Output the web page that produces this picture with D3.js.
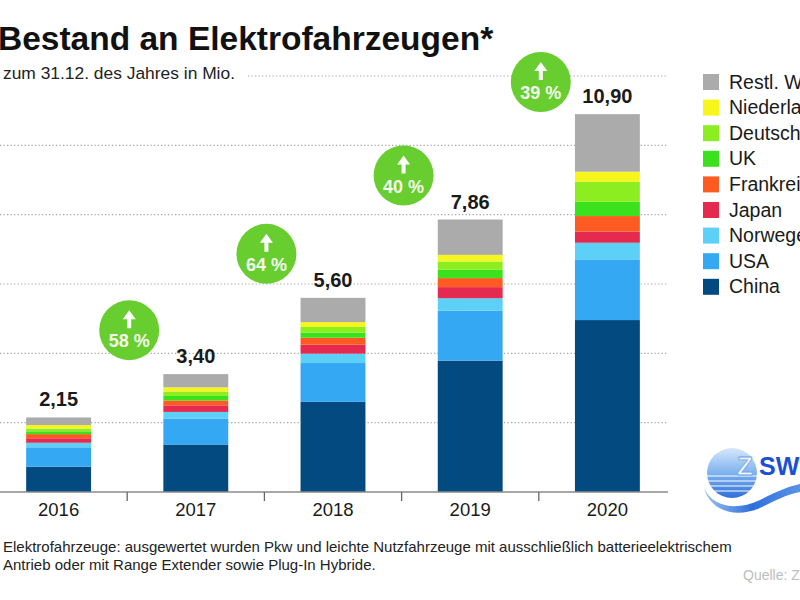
<!DOCTYPE html>
<html>
<head>
<meta charset="utf-8">
<script src="https://cdn.jsdelivr.net/npm/d3@7"></script>
<style>
  body { margin: 0; background: #fff; }
  svg { display: block; font-family: "Liberation Sans", Arial, sans-serif; }
</style>
</head>
<body>
<svg id="chart" width="800" height="600"></svg>
<script>
// values in Mio.
var years = ["2016", "2017", "2018", "2019", "2020"];
var seriesNames = ["China", "USA", "Norwegen", "Japan", "Frankreich", "UK", "Deutschland", "Niederlande", "Restl. Welt"];
var china       = [0.73, 1.37, 2.60, 3.79, 4.96];
var usa         = [0.56, 0.75, 1.12, 1.44, 1.75];
var norwegen    = [0.13, 0.19, 0.27, 0.36, 0.48];
var japan       = [0.13, 0.19, 0.26, 0.32, 0.32];
var frankreich  = [0.12, 0.14, 0.20, 0.26, 0.45];
var uk          = [0.08, 0.13, 0.15, 0.24, 0.41];
var deutschland = [0.08, 0.13, 0.16, 0.24, 0.58];
var niederlande = [0.10, 0.12, 0.14, 0.19, 0.29];
var restWelt    = [0.22, 0.38, 0.70, 1.02, 1.66];
var totalLabels = ["2,15", "3,40", "5,60", "7,86", "10,90"];
var totals      = [2.15, 3.40, 5.60, 7.86, 10.90];
var growth      = ["58 %", "64 %", "40 %", "39 %"];
var yTicks      = [2, 4, 6, 8, 10, 12];

var colors = {
  "China": "#024a80",
  "USA": "#35a8f4",
  "Norwegen": "#5dd0f8",
  "Japan": "#e52a50",
  "Frankreich": "#fd5b22",
  "UK": "#3ae11c",
  "Deutschland": "#8ced20",
  "Niederlande": "#f6f51c",
  "Restl. Welt": "#ababab"
};

var valuesBySeries = {
  "China": china, "USA": usa, "Norwegen": norwegen, "Japan": japan,
  "Frankreich": frankreich, "UK": uk, "Deutschland": deutschland,
  "Niederlande": niederlande, "Restl. Welt": restWelt
};

var rows = years.map(function (yr, i) {
  var r = { year: yr };
  seriesNames.forEach(function (s) { r[s] = valuesBySeries[s][i]; });
  return r;
});

var svg = d3.select("#chart");

var x = d3.scaleBand().domain(years).range([-10, 676]).paddingInner(0.527).paddingOuter(0.2635);
var y = d3.scaleLinear().domain([0, 12]).range([492, 76]);

// gridlines
svg.append("g").selectAll("line")
  .data(yTicks)
  .enter().append("line")
  .attr("x1", function (d) { return d === 12 ? 248 : 0; })
  .attr("x2", 668)
  .attr("y1", function (d) { return y(d); })
  .attr("y2", function (d) { return y(d); })
  .attr("stroke", "#a8a8a8")
  .attr("stroke-width", 1.2)
  .attr("stroke-dasharray", "1.3,2.2");

// stacked bars
var stack = d3.stack().keys(seriesNames);
var layers = stack(rows);

svg.append("g").selectAll("g")
  .data(layers)
  .enter().append("g")
  .attr("fill", function (d) { return colors[d.key]; })
  .selectAll("rect")
  .data(function (d) { return d; })
  .enter().append("rect")
  .attr("x", function (d) { return x(d.data.year); })
  .attr("width", x.bandwidth())
  .attr("y", function (d) { return y(d[1]); })
  .attr("height", function (d) { return y(d[0]) - y(d[1]); });

// x axis
var axis = svg.append("g").attr("transform", "translate(0," + y(0) + ")");
axis.append("line").attr("x1", 0).attr("x2", 668).attr("stroke", "#8a8a8a").attr("stroke-width", 1.3);
axis.selectAll(".tick")
  .data(years.slice(1))
  .enter().append("line")
  .attr("x1", function (d) { return x(d) - x.step() * x.paddingInner() / 2; })
  .attr("x2", function (d) { return x(d) - x.step() * x.paddingInner() / 2; })
  .attr("y1", 0).attr("y2", 9)
  .attr("stroke", "#666").attr("stroke-width", 1.3);
axis.selectAll("text")
  .data(years)
  .enter().append("text")
  .attr("x", function (d) { return x(d) + x.bandwidth() / 2; })
  .attr("y", 24)
  .attr("text-anchor", "middle")
  .attr("font-size", 18.5)
  .attr("fill", "#1a1a1a")
  .text(function (d) { return d; });

// total labels
svg.append("g").selectAll("text")
  .data(years)
  .enter().append("text")
  .attr("x", function (d) { return x(d) + x.bandwidth() / 2; })
  .attr("y", function (d, i) { return y(totals[i]) - 11; })
  .attr("text-anchor", "middle")
  .attr("font-size", 20)
  .attr("font-weight", "bold")
  .attr("fill", "#1a1a1a")
  .text(function (d, i) { return totalLabels[i]; });

// growth badges
var badge = svg.append("g").selectAll("g")
  .data(growth)
  .enter().append("g")
  .attr("transform", function (d, i) {
    var cx = x(years[i + 1]) - x.step() * x.paddingInner() / 2 + 2;
    var cy = Math.max(y(totals[i + 1]) - 44, 82);
    return "translate(" + cx + "," + cy + ")";
  });
badge.append("circle").attr("r", 30).attr("fill", "#68cd2e");
badge.append("path")
  .attr("d", "M0,-20 L-6.5,-11 L-2,-11 L-2,-2 L2,-2 L2,-11 L6.5,-11 Z")
  .attr("fill", "#fff");
badge.append("text")
  .attr("y", 17)
  .attr("text-anchor", "middle")
  .attr("font-size", 18)
  .attr("font-weight", "bold")
  .attr("fill", "#f4fbee")
  .text(function (d) { return d; });

// legend (top entry = top of stack)
var legend = svg.append("g").selectAll("g")
  .data(seriesNames.slice().reverse())
  .enter().append("g")
  .attr("transform", function (d, i) { return "translate(703," + (74 + i * 25.6) + ")"; });
legend.append("rect").attr("width", 16).attr("height", 16)
  .attr("fill", function (d) { return colors[d]; });
legend.append("text")
  .attr("x", 26).attr("y", 14.5)
  .attr("font-size", 19.5)
  .attr("fill", "#1a1a1a")
  .text(function (d) { return d; });

// titles
svg.append("text").attr("x", -2).attr("y", 50)
  .attr("font-size", 33.5).attr("font-weight", "bold").attr("fill", "#111")
  .text("Bestand an Elektrofahrzeugen*");
svg.append("text").attr("x", 3).attr("y", 79)
  .attr("font-size", 17.4).attr("fill", "#222")
  .text("zum 31.12. des Jahres in Mio.");

// footnote + source
svg.append("text").attr("x", 3).attr("y", 552)
  .attr("font-size", 15).attr("fill", "#222")
  .text("Elektrofahrzeuge: ausgewertet wurden Pkw und leichte Nutzfahrzeuge mit ausschließlich batterieelektrischem");
svg.append("text").attr("x", 3).attr("y", 570)
  .attr("font-size", 15).attr("fill", "#222")
  .text("Antrieb oder mit Range Extender sowie Plug-In Hybride.");
svg.append("text").attr("x", 743).attr("y", 580)
  .attr("font-size", 14).attr("fill", "#bdbdbd")
  .text("Quelle: ZSW");

// ZSW logo
var defs = svg.append("defs");
var lg = defs.append("linearGradient").attr("id", "sun").attr("x1", 0).attr("y1", 0).attr("x2", 0).attr("y2", 1);
lg.append("stop").attr("offset", "0%").attr("stop-color", "#d6e8fb");
lg.append("stop").attr("offset", "50%").attr("stop-color", "#7fb2ee");
lg.append("stop").attr("offset", "100%").attr("stop-color", "#2f6fd8");
var wg = defs.append("linearGradient").attr("id", "wave").attr("x1", 0).attr("y1", 0).attr("x2", 1).attr("y2", 0);
wg.append("stop").attr("offset", "0%").attr("stop-color", "#9cc4f2");
wg.append("stop").attr("offset", "50%").attr("stop-color", "#2e6fdc");
wg.append("stop").attr("offset", "100%").attr("stop-color", "#5a93e6");

var logo = svg.append("g");
logo.append("circle").attr("cx", 732).attr("cy", 473).attr("r", 25).attr("fill", "url(#sun)");
[476, 481, 486, 491].forEach(function (yy) {
  logo.append("line").attr("x1", 706).attr("x2", 758).attr("y1", yy).attr("y2", yy)
    .attr("stroke", "#fff").attr("stroke-width", 1.2);
});
logo.append("path")
  .attr("d", "M704,488 C712,506 735,512 760,500 C775,492 790,486 800,484 L800,492 C788,494 776,500 762,507 C735,520 710,510 704,488 Z")
  .attr("fill", "url(#wave)");
logo.append("text").attr("x", 737).attr("y", 475)
  .attr("font-size", 26).attr("font-weight", "bold")
  .attr("fill", "#f2f7ff").attr("stroke", "#6f9fe6").attr("stroke-width", 0.8)
  .text("Z");
logo.append("text").attr("x", 759).attr("y", 475)
  .attr("font-size", 25).attr("font-weight", "bold")
  .attr("fill", "#1d4fd6")
  .text("SW");
</script>
</body>
</html>
